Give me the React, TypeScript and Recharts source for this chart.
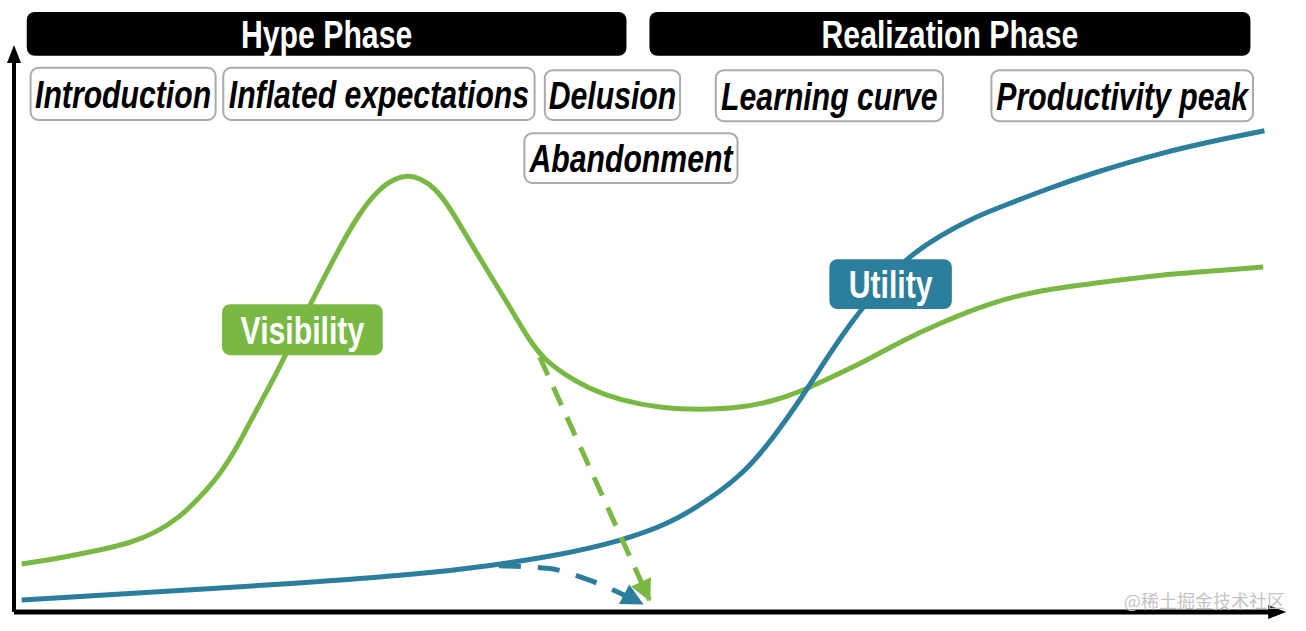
import { ComposedChart, Line, XAxis, YAxis, ReferenceArea, ReferenceLine, ReferenceDot } from "recharts";

const GREEN = "#79B943";
const BLUE = "#2C7F9C";
const FONT = "'Liberation Sans Narrow', 'Arial Narrow', 'Liberation Sans', Arial, sans-serif";

// time (0-100) and level (0-100)
const visibilityTime = [0.6, 3.6, 6.7, 9.1, 11.1, 13.0, 14.6, 16.0, 17.5, 18.7, 20.3, 21.2, 23.2, 25.2, 27.1, 28.7, 29.9, 30.9, 31.8, 33.0, 34.2, 35.7, 37.3, 38.9, 40.4, 41.6, 43.2, 45.1, 47.5, 50.6, 53.8, 56.9, 59.6, 61.6, 63.6, 66.3, 69.4, 72.6, 76.7, 80.6, 84.6, 89.8, 95.1, 97.9];
const visibilityLevel = [8.0, 9.0, 10.3, 11.5, 13.2, 15.8, 19.2, 22.5, 27.5, 32.5, 38.7, 42.5, 51.2, 59.5, 66.7, 70.7, 72.3, 72.8, 72.3, 70.7, 67.3, 61.8, 56.2, 50.7, 45.2, 42.0, 39.5, 37.2, 35.3, 34.0, 33.7, 34.0, 35.2, 36.7, 38.7, 41.3, 45.0, 48.2, 51.7, 53.7, 54.8, 56.2, 57.0, 57.5];

const utilityTime = [0.6, 10.7, 22.4, 31.8, 37.3, 42.8, 47.5, 51.4, 54.5, 57.3, 59.6, 61.6, 63.6, 65.5, 67.5, 69.8, 72.6, 75.3, 77.3, 81.2, 84.6, 89.8, 95.1, 98.0];
const utilityLevel = [2.0, 3.3, 4.8, 6.3, 7.7, 9.5, 11.8, 14.7, 18.8, 23.3, 29.3, 35.3, 42.0, 48.0, 53.3, 58.8, 62.8, 65.8, 67.5, 70.7, 73.2, 76.5, 79.0, 80.2];

// abandonment arrows
const dropVisibilityTime = [41.2, 49.8];
const dropVisibilityLevel = [42.5, 2.0];
const dropUtilityTime = [38.0, 41.8, 45.1, 49.2];
const dropUtilityLevel = [7.7, 7.3, 5.3, 1.4];

const phases = ["Hype Phase", "Realization Phase"];
const stages = ["Introduction", "Inflated expectations", "Delusion", "Abandonment", "Learning curve", "Productivity peak"];

const zip = (ts: number[], vs: number[]) => ts.map((t, i) => ({ t, v: vs[i] }));

const visibility = zip(visibilityTime, visibilityLevel);
const utility = zip(utilityTime, utilityLevel);
const dropVisibility = zip(dropVisibilityTime, dropVisibilityLevel);
const dropUtility = zip(dropUtilityTime, dropUtilityLevel);

// box placement in chart units [x1, x2, y1, y2]
const phaseBoxes = [[1.0, 48.0, 92.7, 100], [49.8, 96.9, 92.7, 100]];
const stageBoxes = [
  [1.3, 15.8, 82.0, 90.7],
  [16.4, 40.8, 82.0, 90.7],
  [41.6, 52.2, 82.0, 90.3],
  [40.0, 56.7, 71.5, 79.8],
  [55.0, 72.8, 81.8, 90.3],
  [76.6, 97.1, 81.8, 90.3],
];

const boxShape = (label: string, fill: string, stroke: string, color: string, italic: boolean) => (p: any) => (
  <g>
    <rect x={p.x} y={p.y} width={p.width} height={p.height} rx={8} fill={fill} stroke={stroke} strokeWidth={stroke === "none" ? 0 : 2} />
    <text
      transform={`translate(${p.x + p.width / 2},${p.y + p.height / 2 + 14}) scale(0.795,1)`}
      textAnchor="middle"
      fill={color}
      fontFamily={FONT}
      fontWeight="bold"
      fontStyle={italic ? "italic" : "normal"}
      fontSize={38}
    >
      {label}
    </text>
  </g>
);

const arrowHead = (color: string, angle: number, last: number) => (p: any) => {
  if (p.index !== last) return <g key={p.index} />;
  return (
    <polygon
      key={p.index}
      points="2,0 -20,-11 -20,11"
      transform={`translate(${p.cx},${p.cy}) rotate(${angle})`}
      fill={color}
    />
  );
};

export default function App() {
  return (
    <div style={{ position: "absolute", left: 0, top: 0, background: "#fff" }}>
      <ComposedChart width={1306} height={631} margin={{ top: 12, right: 16, bottom: 19, left: 14 }}>
        <XAxis type="number" dataKey="t" domain={[0, 100]} hide allowDataOverflow />
        <YAxis type="number" dataKey="v" domain={[0, 100]} hide allowDataOverflow />

        <ReferenceLine segment={[{ x: 0, y: 0 }, { x: 0, y: 92 }]} stroke="#000" strokeWidth={4} ifOverflow="visible" />
        <ReferenceLine segment={[{ x: 0, y: 0 }, { x: 98.5, y: 0 }]} stroke="#000" strokeWidth={5} ifOverflow="visible" />
        <ReferenceDot x={0} y={94.5} r={0} ifOverflow="visible"
          shape={(p: any) => <polygon points={`${p.cx},${p.cy} ${p.cx - 7},${p.cy + 18} ${p.cx + 7},${p.cy + 18}`} fill="#000" />} />
        <ReferenceDot x={99.7} y={0} r={0} ifOverflow="visible"
          shape={(p: any) => <polygon points={`${p.cx},${p.cy} ${p.cx - 18},${p.cy - 7} ${p.cx - 18},${p.cy + 7}`} fill="#000" />} />

        <Line data={visibility} dataKey="v" type="basis" stroke={GREEN} strokeWidth={5} dot={false} isAnimationActive={false} />
        <Line data={utility} dataKey="v" type="basis" stroke={BLUE} strokeWidth={5} dot={false} isAnimationActive={false} />
        <Line data={dropVisibility} dataKey="v" type="linear" stroke={GREEN} strokeWidth={5} strokeDasharray="20 13"
          dot={arrowHead(GREEN, 65, dropVisibility.length - 1)} isAnimationActive={false} />
        <Line data={dropUtility} dataKey="v" type="monotone" stroke={BLUE} strokeWidth={5} strokeDasharray="22 17"
          dot={arrowHead(BLUE, 28, dropUtility.length - 1)} isAnimationActive={false} />

        {phaseBoxes.map((b, i) => (
          <ReferenceArea key={phases[i]} x1={b[0]} x2={b[1]} y1={b[2]} y2={b[3]} ifOverflow="visible" zIndex={2000}
            shape={boxShape(phases[i], "#000", "none", "#fff", false)} />
        ))}
        {stageBoxes.map((b, i) => (
          <ReferenceArea key={stages[i]} x1={b[0]} x2={b[1]} y1={b[2]} y2={b[3]} ifOverflow="visible" zIndex={2000}
            shape={boxShape(stages[i], "#fff", "#aaa", "#000", true)} />
        ))}
        <ReferenceArea x1={16.3} x2={28.9} y1={42.8} y2={51.3} ifOverflow="visible" zIndex={2000}
          shape={boxShape("Visibility", GREEN, "none", "#fff", false)} />
        <ReferenceArea x1={63.9} x2={73.5} y1={50.5} y2={58.8} ifOverflow="visible" zIndex={2000}
          shape={boxShape("Utility", BLUE, "none", "#fff", false)} />

        <ReferenceDot x={99.6} y={0.7} r={0} ifOverflow="visible" zIndex={2000}
          shape={(p: any) => (
            <text x={p.cx} y={p.cy} textAnchor="end" fill="#c4c4c4" fontSize={18} fontFamily="'Noto Sans CJK SC', sans-serif">
              @稀土掘金技术社区
            </text>
          )} />
      </ComposedChart>
    </div>
  );
}
